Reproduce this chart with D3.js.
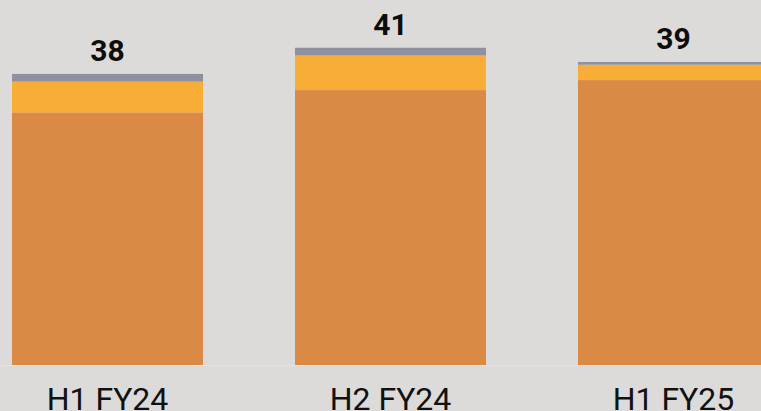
<!DOCTYPE html>
<html>
<head>
<meta charset="utf-8">
<script src="https://cdn.jsdelivr.net/npm/d3@7/dist/d3.min.js"></script>
<style>
  html, body { margin: 0; padding: 0; background: #dcdbda; overflow: hidden; }
  svg { display: block; }
</style>
</head>
<body>
<svg id="chart" width="761" height="411"></svg>
<script>
const categories = ["H1 FY24", "H2 FY24", "H1 FY25"];
const seriesBase = [32.8, 35.7, 37.0];
const seriesMid = [4.0, 4.5, 2.0];
const seriesTop = [1.0, 1.0, 0.35];
const totalLabels = ["38", "41", "39"];

const W = 761, H = 411;
const svg = d3.select("#chart");
svg.append("rect").attr("width", W).attr("height", H).attr("fill", "#dcdbda");

const x = d3.scaleBand().domain(categories).range([12, 769]).paddingInner(0.325).paddingOuter(0);
const y = d3.scaleLinear().domain([0, 47.4]).range([365, 0]);

const keys = ["base", "mid", "top"];
const colors = { base: "#da8a45", mid: "#f8ae36", top: "#8f91a0" };
const rows = categories.map((c, i) => ({ cat: c, base: seriesBase[i], mid: seriesMid[i], top: seriesTop[i] }));
const stack = d3.stack().keys(keys)(rows);

// baseline
svg.append("line").attr("x1", 0).attr("x2", W).attr("y1", y(0) + 0.5).attr("y2", y(0) + 0.5)
  .attr("stroke", "#e4e3e1").attr("stroke-width", 1);

svg.append("g").selectAll("g").data(stack).join("g")
  .attr("fill", d => colors[d.key])
  .selectAll("rect").data(d => d).join("rect")
  .attr("x", d => x(d.data.cat))
  .attr("width", x.bandwidth())
  .attr("y", d => y(d[1]))
  .attr("height", d => y(d[0]) - y(d[1]));

// totals
svg.append("g").selectAll("text").data(rows).join("text")
  .attr("x", d => x(d.cat) + x.bandwidth() / 2)
  .attr("y", d => y(d.base + d.mid + d.top) - 13)
  .attr("text-anchor", "middle")
  .attr("font-family", "Roboto, 'Liberation Sans', sans-serif")
  .attr("font-weight", "bold")
  .attr("font-size", 30)
  .attr("fill", "#0d0d0d")
  .text((d, i) => totalLabels[i]);

// category labels
svg.append("g").selectAll("text").data(categories).join("text")
  .attr("x", d => x(d) + x.bandwidth() / 2)
  .attr("y", 409.5)
  .attr("text-anchor", "middle")
  .attr("font-family", "Roboto, 'Liberation Sans', sans-serif")
  .attr("font-size", 32)
  .attr("fill", "#111")
  .text(d => d);
</script>
</body>
</html>
